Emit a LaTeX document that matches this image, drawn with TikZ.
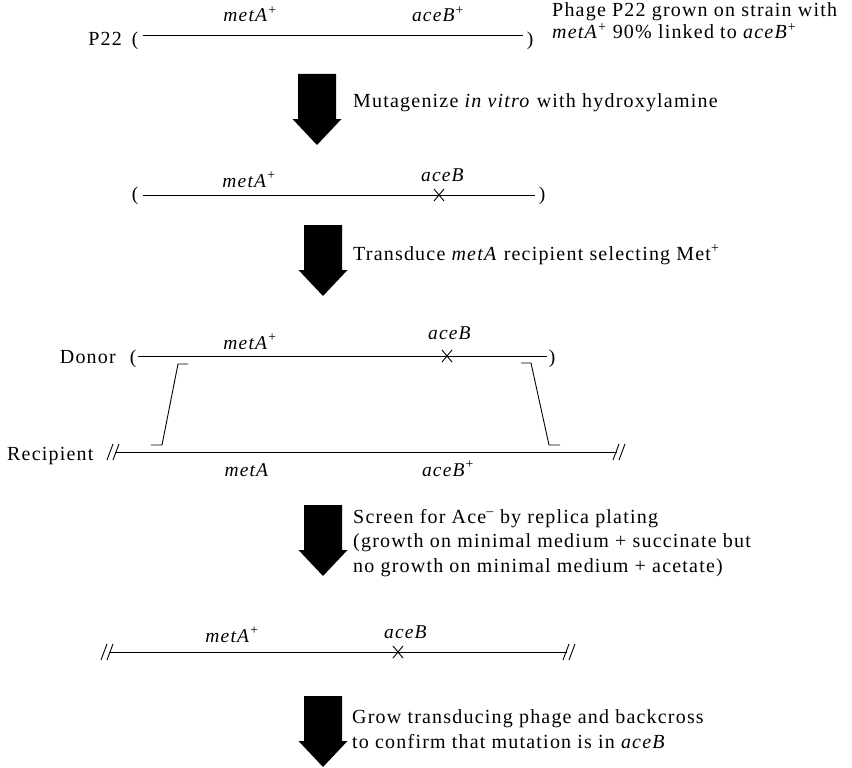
\documentclass[tikz,border=0pt]{standalone}
\usepackage{fontspec}
\setmainfont{Liberation Serif}[LetterSpace=6]
\begin{document}
\begin{tikzpicture}[x=1pt,y=-1pt,
  lbl/.style={inner sep=0, anchor=base, font=\fontsize{19.5}{20}\selectfont},
  txt/.style={inner sep=0, anchor=base west, align=left, font=\fontsize{20}{24.5}\selectfont},
  txttop/.style={txt, font=\fontsize{20}{22}\selectfont},
  dna/.style={line width=1pt},
  brk/.style={line width=0.9pt},
  bigarrow/.pic={\fill (-19,0) -- (19,0) -- (19,45) -- (24.5,45) -- (0,71) -- (-24.5,45) -- (-19,45) -- cycle;},
  mutx/.pic={\draw[line width=0.9pt] (-5,-6) -- (5,6) (-5,6) -- (5,-6);},
  cut/.pic={\draw[line width=0.9pt] (-6,8) -- (0,-8) (0,8) -- (6,-8);}
]
\useasboundingbox (0,0) rectangle (852,768);

% ---- Row 1 : P22 phage ----
\node[txt, anchor=base east] (p22) at (122,46) {P22};
\node[lbl] (l1o) at (135,46) {(};
\node[lbl] (l1c) at (530,46) {)};
\coordinate (a1) at (143,36);
\coordinate (b1) at (523,36);
\draw[dna] (a1) -- (b1);
\node[lbl] (m1) at (250,22) {\textit{metA}\textsuperscript{+}};
\node[lbl] (c1) at (438,22) {\textit{aceB}\textsuperscript{+}};
% base anchor of a multi-line node = baseline of its last line
\node[txttop] (t0) at (552,39) {Phage P22 grown on strain with\\\textit{metA}\textsuperscript{+} 90\% linked to \textit{aceB}\textsuperscript{+}};

% ---- Arrow 1 ----
\pic at (317,74) {bigarrow};
\node[txt] (t1) at (353,107) {Mutagenize \textit{in vitro} with hydroxylamine};

% ---- Row 2 : mutagenized phage ----
\node[lbl] (l2o) at (135,200) {(};
\node[lbl] (l2c) at (542,200) {)};
\coordinate (a2) at (143,195);
\coordinate (b2) at (535,195);
\draw[dna] (a2) -- (b2);
\pic at (439,195) {mutx};
\node[lbl] (m2) at (249,187) {\textit{metA}\textsuperscript{+}};
\node[lbl] (c2) at (443,181) {\textit{aceB}};

% ---- Arrow 2 ----
\pic at (323,225) {bigarrow};
\node[txt] (t2) at (353,260) {Transduce \textit{metA} recipient selecting Met\textsuperscript{+}};

% ---- Row 3 : donor / recipient ----
\node[txt, anchor=base east] (don) at (116,363) {Donor};
\node[lbl] (l3o) at (133,363) {(};
\node[lbl] (l3c) at (552,363) {)};
\coordinate (a3) at (138,356);
\coordinate (b3) at (547,356);
\draw[dna] (a3) -- (b3);
\pic at (447,356) {mutx};
\node[lbl] (m3) at (250,349) {\textit{metA}\textsuperscript{+}};
\node[lbl] (c3) at (450,339) {\textit{aceB}};

\node[txt, anchor=base west] (rec) at (7,460) {Recipient};
\coordinate (a4) at (116,452);
\coordinate (b4) at (617,452);
\draw[dna] (a4) -- (b4);
\pic at (113,452) {cut};
\pic at (619,452) {cut};
\node[lbl] (m4) at (247,476) {\textit{metA}};
\node[lbl] (c4) at (448,476) {\textit{aceB}\textsuperscript{+}};

% crossover brackets
\draw[brk] (188,364) -- (178,364) -- (162,445) -- (151,445);
\draw[brk] (521,363) -- (531,363) -- (549,445) -- (560,445);

% ---- Arrow 3 ----
\pic at (323,505) {bigarrow};
\node[txt] (t3) at (353,572) {Screen for Ace\textsuperscript{–} by replica plating\\(growth on minimal medium + succinate but\\no growth on minimal medium + acetate)};

% ---- Row 5 : transductant ----
\coordinate (a5) at (110,652);
\coordinate (b5) at (567,652);
\draw[dna] (a5) -- (b5);
\pic at (107,652) {cut};
\pic at (569,652) {cut};
\pic at (398,652) {mutx};
\node[lbl] (m5) at (232,642) {\textit{metA}\textsuperscript{+}};
\node[lbl] (c5) at (406,638) {\textit{aceB}};

% ---- Arrow 4 ----
\pic at (323,696) {bigarrow};
\node[txt] (t4) at (352,748) {Grow transducing phage and backcross\\to confirm that mutation is in \textit{aceB}};
\end{tikzpicture}
\end{document}
